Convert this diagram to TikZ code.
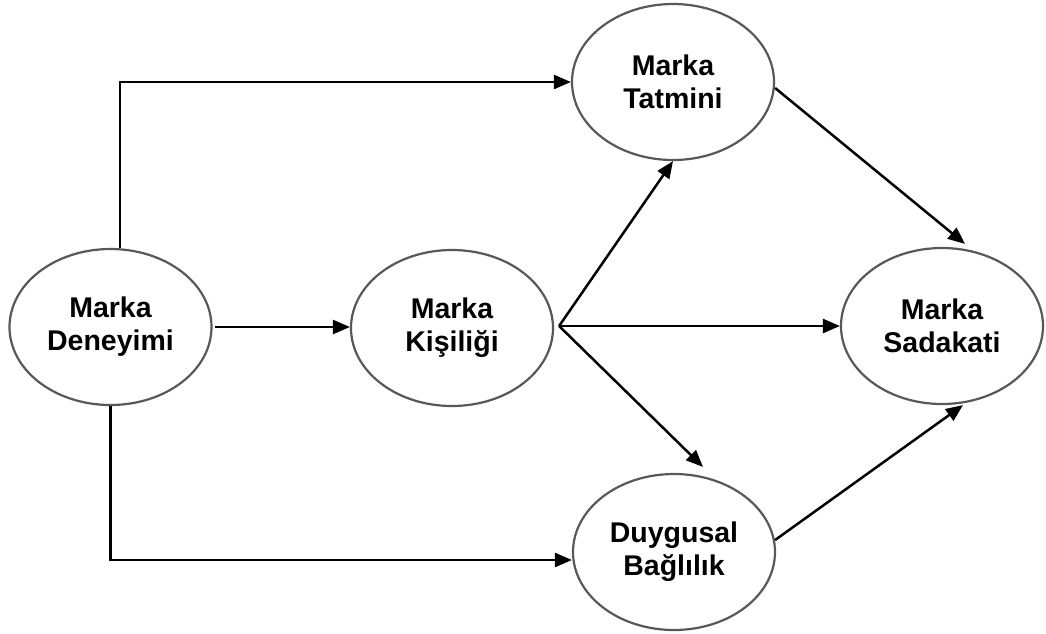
\documentclass[tikz,border=0pt]{standalone}
\usepackage{fontspec}
\setmainfont{Liberation Sans}
\usetikzlibrary{arrows.meta,shapes.geometric}
\definecolor{rim}{HTML}{585858}
\tikzset{
  construct/.style={ellipse, draw=rim, line width=2.2pt, fill=white,
    minimum width=202pt, minimum height=156pt, inner sep=0pt,
    align=center, font=\fontsize{28.5}{33}\selectfont\bfseries},
  link/.style={line width=2.5pt, -{Triangle[length=17pt,width=14pt]}}
}
\begin{document}
\begin{tikzpicture}[x=1pt, y=-1pt]
\useasboundingbox (0,0) rectangle (1046,633);

% constructs
\node[construct] (den) at (110.5,327) {Marka\\Deneyimi};
\node[construct] (kis) at (452,328) {Marka\\Kişiliği};
\node[construct] (tat) at (673,82) {Marka\\Tatmini};
\node[construct] (sad) at (942,326) {Marka\\Sadakati};
\node[construct] (bag) at (674,552) {Duygusal\\Bağlılık};

% branching point just right of Marka Kişiliği
\coordinate (kv) at ([xshift=5pt,yshift=2pt]kis.east);

% paths from Marka Deneyimi
\draw[link] ([xshift=9.5pt]den.north) |- (tat.west);
\draw[link] ([xshift=2pt]den.east) -- (den.east -| kis.west);
\draw[link] (den.south) |- ([yshift=-8pt]bag.west);

% paths from Marka Kişiliği
\draw[link] (kv) -- (tat.south);
\draw[link] (kv) -- (kv -| sad.west);
\draw[link] (kv) -- ([xshift=29pt,yshift=6pt]bag.north);

% paths into Marka Sadakati
\draw[link] ([yshift=-6pt]tat.east) -- ([xshift=23pt,yshift=3pt]sad.north);
\draw[link] ([xshift=-1pt,yshift=12pt]bag.east) -- ([xshift=21pt]sad.south);
\end{tikzpicture}
\end{document}
